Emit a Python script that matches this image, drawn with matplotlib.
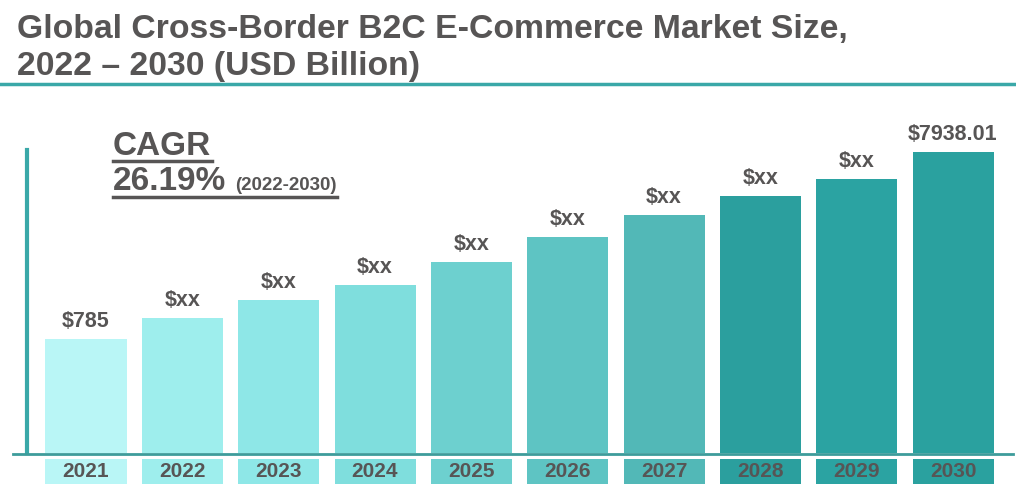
import numpy as np
import matplotlib.pyplot as plt
from matplotlib.lines import Line2D

# datos del grafico (alturas relativas)
years = ["2021", "2022", "2023", "2024", "2025", "2026", "2027", "2028", "2029", "2030"]
bar_heights = [114, 135, 153, 168, 191, 216, 238, 257, 274, 301]
value_labels = ["$785", "$xx", "$xx", "$xx", "$xx", "$xx", "$xx", "$xx", "$xx", "$7938.01"]
bar_colors = ["#b9f6f6", "#9eeeed", "#8ee7e7", "#7fdedd", "#6dd0cf", "#5ec4c3",
              "#52b8b7", "#2b9f9e", "#2ba3a2", "#2aa19f"]

W, H = 1016, 498
gray = "#575555"
teal = "#3aa8a8"
font = "Liberation Sans"


def fx(px):
    return px / W


def fy(py):
    return 1 - py / H


fig = plt.figure(figsize=(W / 100, H / 100), dpi=100)

# titulo
fig.text(fx(17), fy(38), "Global Cross-Border B2C E-Commerce Market Size,",
         fontsize=24.3, fontweight="bold", color=gray, family=font, va="baseline")
fig.text(fx(17), fy(75), "2022 \u2013 2030 (USD Billion)",
         fontsize=24.3, fontweight="bold", color=gray, family=font, va="baseline")
fig.add_artist(Line2D([0, 1], [fy(84), fy(84)], color=teal, lw=2.5))

# ejes
x0, x1 = 27, 1013
y_top, y_bot = 150, 453
ax = fig.add_axes([fx(x0), fy(y_bot), fx(x1) - fx(x0), fy(y_top) - fy(y_bot)])
pitch = (953 - 86) / 9
ax.set_xlim((x0 - 86) / pitch, (x1 - 86) / pitch)
ax.set_ylim(0, y_bot - y_top)
for s in ["top", "right", "bottom"]:
    ax.spines[s].set_visible(False)
ax.spines["left"].set_color(teal)
ax.spines["left"].set_linewidth(3)
ax.set_xticks([])
ax.set_yticks([])
ax.patch.set_alpha(0)

x = np.arange(len(years))
bw = 81 / pitch
ax.bar(x, bar_heights, width=bw, color=bar_colors)
for xi, h, lab in zip(x, bar_heights, value_labels):
    ax.text(xi, h + 12, lab, ha="center", va="baseline", fontsize=15.5,
            fontweight="bold", color=gray, family=font)

# cajas de los anios
ax.bar(x, -25, bottom=-6, width=bw, color=bar_colors, clip_on=False)
for xi, yr in zip(x, years):
    ax.text(xi, -18.5, yr, ha="center", va="center", fontsize=15,
            fontweight="bold", color=gray, family=font, clip_on=False)

fig.add_artist(Line2D([fx(13), fx(1013)], [fy(454), fy(454)], color="#3d9c9b", lw=2))

# CAGR
fig.text(fx(113), fy(155), "CAGR", fontsize=24, fontweight="bold", color=gray,
         family=font, va="baseline")
fig.add_artist(Line2D([fx(113), fx(212)], [fy(161), fy(161)], color=gray, lw=2.5))
fig.text(fx(113), fy(190), "26.19%", fontsize=24, fontweight="bold", color=gray,
         family=font, va="baseline")
fig.text(fx(235), fy(190), "(2022-2030)", fontsize=13.5, fontweight="bold", color=gray,
         family=font, va="baseline")
fig.add_artist(Line2D([fx(113), fx(337)], [fy(197), fy(197)], color=gray, lw=2.5))

fig.savefig("out.png", dpi=100)
